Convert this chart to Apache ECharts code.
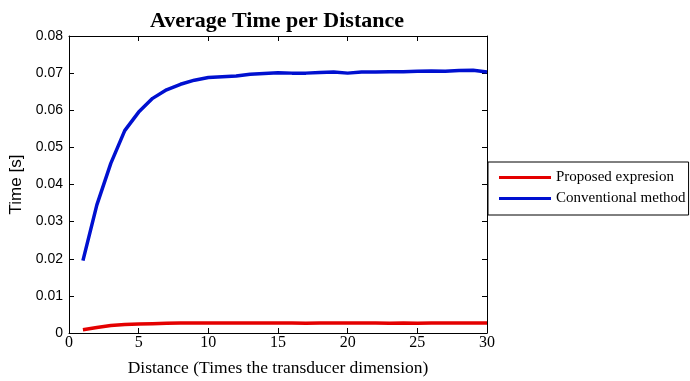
<!DOCTYPE html>
<html>
<head>
<meta charset="utf-8">
<script src="https://cdn.jsdelivr.net/npm/echarts@6/dist/echarts.min.js"></script>
<style>html,body{margin:0;padding:0;background:#fff;}#c{width:690px;height:381px;}</style>
</head>
<body>
<div id="c"></div>
<script>
const distance = [1,2,3,4,5,6,7,8,9,10,11,12,13,14,15,16,17,18,19,20,21,22,23,24,25,26,27,28,29,30];
const conventional = [0.0195,0.0345,0.0457,0.0545,0.0595,0.0632,0.0655,0.0670,0.0681,0.0688,0.0690,0.0692,0.0697,0.0699,0.0701,0.0700,0.0700,0.0702,0.0703,0.0700,0.0703,0.0703,0.0704,0.0704,0.0705,0.0706,0.0705,0.0707,0.0708,0.0703];
const proposed = [0.0009,0.0015,0.0020,0.0023,0.0024,0.0025,0.0026,0.0027,0.0027,0.0027,0.0027,0.0027,0.0027,0.0027,0.0027,0.0027,0.0026,0.0027,0.0027,0.0027,0.0027,0.0027,0.0026,0.0027,0.0026,0.0027,0.0027,0.0027,0.0027,0.0027];
const seriesNames = ['Proposed expresion','Conventional method'];
const titleText = 'Average Time per Distance';
const xName = 'Distance (Times the transducer dimension)';
const yName = 'Time [s]';

const chart = echarts.init(document.getElementById('c'));
const pair = (xs, ys) => xs.map((x, i) => [x, ys[i]]);
const serif = '"Liberation Serif", "Times New Roman", serif';
const sans = '"Liberation Sans", Arial, sans-serif';
const boxAxis = {
  axisLine: {show: true, onZero: false, lineStyle: {color: '#000', width: 1}},
  axisTick: {show: true, inside: true, length: 5, lineStyle: {color: '#000'}},
  splitLine: {show: false}
};
chart.setOption({
  backgroundColor: '#fff',
  animation: false,
  title: {
    text: titleText, left: 272, top: 5, textAlign: 'center',
    textStyle: {fontFamily: serif, fontWeight: 'bold', fontSize: 22, color: '#000'}
  },
  legend: {
    orient: 'vertical', left: 488, top: 162,
    padding: [8, 3, 9, 11], itemGap: 6, itemWidth: 52, itemHeight: 3, icon: 'rect',
    borderColor: '#000', borderWidth: 1, backgroundColor: '#fff',
    textStyle: {fontFamily: serif, fontSize: 15, color: '#000'},
    data: seriesNames
  },
  grid: {left: 69, right: 203, top: 36, bottom: 48, containLabel: false, outerBoundsMode: 'none'},
  xAxis: [Object.assign({
    type: 'value', min: 0, max: 30, interval: 5,
    name: xName, nameLocation: 'middle', nameGap: 26,
    nameTextStyle: {fontFamily: serif, fontSize: 17.5, color: '#000'},
    axisLabel: {fontFamily: serif, fontSize: 16, color: '#000', margin: 2}
  }, boxAxis), Object.assign({
    type: 'value', min: 0, max: 30, interval: 5, position: 'top',
    axisLabel: {show: false}
  }, boxAxis)],
  yAxis: [Object.assign({
    type: 'value', min: 0, max: 0.08, interval: 0.01,
    name: yName, nameLocation: 'middle', nameGap: 43, nameRotate: 90,
    nameTextStyle: {fontFamily: sans, fontSize: 17, color: '#000'},
    axisLabel: {fontFamily: sans, fontSize: 14, color: '#000', margin: 6,
      formatter: v => String(Math.round(v * 100) / 100)}
  }, boxAxis), Object.assign({
    type: 'value', min: 0, max: 0.08, interval: 0.01, position: 'right',
    axisLabel: {show: false}
  }, boxAxis)],
  series: [{
    name: seriesNames[0], type: 'line', data: pair(distance, proposed),
    symbol: 'none', color: '#e40000', lineStyle: {width: 3.5, color: '#e40000'}
  }, {
    name: seriesNames[1], type: 'line', data: pair(distance, conventional),
    symbol: 'none', color: '#0010d0', lineStyle: {width: 3.5, color: '#0010d0'}
  }]
});
</script>
</body>
</html>
